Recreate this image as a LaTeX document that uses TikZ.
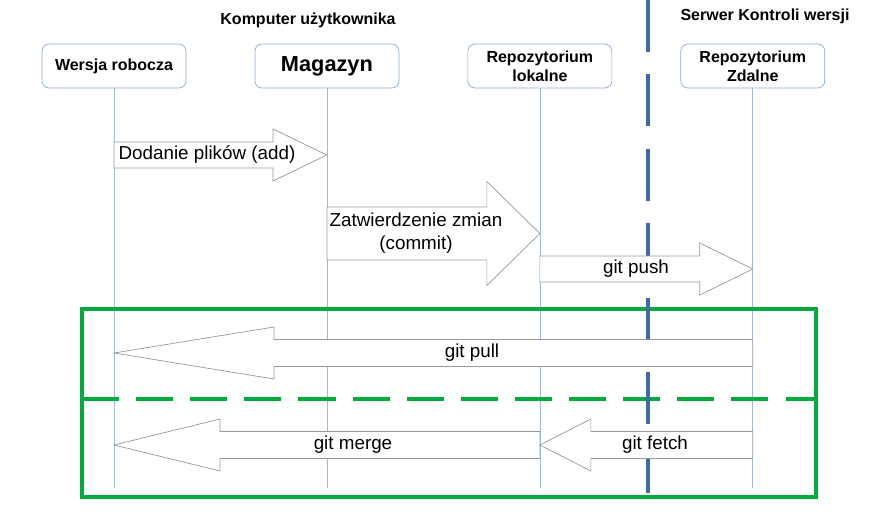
\documentclass[tikz,border=0pt]{standalone}
\usepackage{fontspec}
\setmainfont{Liberation Sans}
\usepackage{tikz}
\usetikzlibrary{positioning,calc}

\definecolor{boxblue}{RGB}{140,170,215}
\definecolor{lifeblue}{RGB}{160,185,220}
\definecolor{serverblue}{RGB}{65,105,170}
\definecolor{groupgreen}{RGB}{0,170,60}

\tikzset{
  actor/.style={draw=boxblue, fill=white, rounded corners=6pt, line width=0.6pt,
    minimum width=122.4pt, minimum height=37.4pt, align=center,
    font=\fontsize{13.6pt}{16pt}\selectfont\bfseries},
  lifeline/.style={draw=lifeblue, line width=0.6pt},
  blockarrow/.style={draw=gray!80, fill=white, line width=0.6pt},
  arrowtext/.style={align=center, inner sep=0pt, font=\fontsize{16pt}{19.5pt}\selectfont},
  title/.style={font=\fontsize{13.6pt}{16pt}\selectfont\bfseries}
}

% #1 from, #2 to, #3 y, #4 body half, #5 head half, #6 head length (signed), #7 label x, #8 label
\newcommand{\blockarrow}[8]{%
  \coordinate (a0) at (#1 |- 0,#3);
  \coordinate (b0) at (#2 |- 0,#3);
  \coordinate (h0) at ($(b0)+(#6,0)$);
  \draw [blockarrow] ($(a0)+(0,-#4)$) -- ($(h0)+(0,-#4)$) -- ($(h0)+(0,-#5)$) -- (b0)
    -- ($(h0)+(0,#5)$) -- ($(h0)+(0,#4)$) -- ($(a0)+(0,#4)$) -- cycle;
  \node [arrowtext] at (#7,#3) {#8};
}

\begin{document}
\begin{tikzpicture}[x=0.85pt, y=-0.85pt, node distance=181pt]
	\useasboundingbox (0,0) rectangle (869,529);

	% Nodes {wr, mag, rl, rz}
	\node [actor] (wr)  at (114,66)    {Wersja robocza};
	\node [actor, font=\fontsize{18.5pt}{20pt}\selectfont\bfseries] (mag) [right of=wr] {Magazyn};
	\node [actor] (rl)  [right of=mag] {Repozytorium\\lokalne};
	\node [actor] (rz)  [right of=rl]  {Repozytorium\\Zdalne};

	\node [title] (pc)  at (308,20) {Komputer użytkownika};
	\node [title] (srv) at (765,16) {Serwer Kontroli wersji};

	% Lifelines
	\foreach \n in {wr,mag,rl,rz}
		\draw [lifeline] (\n.south) -- (\n |- 0,488);

	% Pull / fetch + merge group
	\draw [groupgreen, line width=2.6pt] (82,309) rectangle (816,497);
	\draw [groupgreen, line width=2.6pt, dash pattern=on 31.5pt off 14.5pt] (82,399) -- (816,399);

	% Computer | server border
	\draw [serverblue, line width=3.8pt, dash pattern=on 44.2pt off 19.1pt] (648,0) -- (648,493);

	% Arrows {add, commit, push, pull, merge, fetch}
	\blockarrow{wr}{mag}{155}{13}{26}{-54}{207}{Dodanie plików (add)}
	\blockarrow{mag}{rl}{233.5}{26.5}{52}{-53}{416}{Zatwierdzenie zmian\\(commit)}
	\blockarrow{rl}{rz}{269}{13}{26}{-53}{636}{git push}
	\blockarrow{rz}{wr}{353}{13.5}{26}{160}{472}{git pull}
	\blockarrow{rl}{wr}{445}{13.5}{26}{106}{353}{git merge}
	\blockarrow{rz}{rl}{445}{13.5}{26}{51}{655}{git fetch}

\end{tikzpicture}
\end{document}
